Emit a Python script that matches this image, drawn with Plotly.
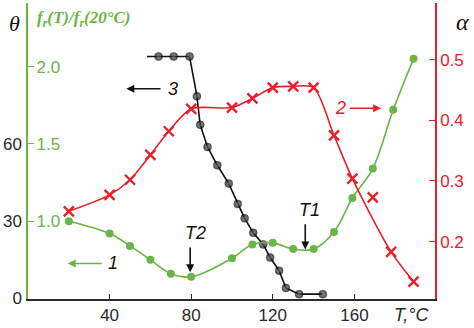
import plotly.graph_objects as go

# Curve 1: relative resonance frequency f_r(T)/f_r(20°C)
T_ratio = [20, 40, 50, 60, 70, 80, 100, 110, 120, 130, 140, 150, 159, 169, 179, 189]
ratio = [1.00, 0.92, 0.84, 0.75, 0.66, 0.64, 0.76, 0.85, 0.86, 0.82, 0.82, 0.93, 1.15, 1.34, 1.72, 2.05]

# Curve 2: loss coefficient alpha (main branch + one scattered point)
T_alpha = [20, 40, 50, 60, 69, 80, 100, 110, 120, 130, 140, 150, 159, 178, 189]
alpha = [0.250, 0.277, 0.302, 0.343, 0.382, 0.419, 0.421, 0.436, 0.454, 0.456, 0.454, 0.375, 0.304, 0.183, 0.134]
T_alpha_extra = [169]
alpha_extra = [0.273]

# Curve 3: angle theta, degrees
T_theta = [58.3, 64.0, 71.4, 79.2, 82.8, 84.4, 88.0, 92.8, 98.4, 102.8, 106.2, 110.4,
           115.3, 118.7, 123.1, 126.4, 132.9, 144.5]
theta = [93.9, 93.9, 93.9, 93.9, 78.5, 67.4, 58.8, 51.7, 44.6, 36.7, 31.1, 25.5,
         21.0, 15.9, 10.8, 4.1, 1.7, 1.7]

x_ticks = [40, 80, 120, 160]
theta_ticks = [0, 30, 60]
ratio_ticks = [1.0, 1.5, 2.0]
alpha_ticks = [0.2, 0.3, 0.4, 0.5]

GREEN = "#6ab547"
RED = "#e8202a"
DARK = "#2a2a2a"
SANS = "Liberation Sans, Arial, sans-serif"
SERIF = "Liberation Serif, Times New Roman, serif"

theta_range = [-0.19, 114.66]
ratio_range = [0.5 + theta_range[0] / 60, 0.5 + theta_range[1] / 60]
alpha_range = [0.1054, 0.5934]

fig = go.Figure()

fig.add_trace(go.Scatter(
    x=T_ratio, y=ratio, yaxis="y2", mode="lines+markers",
    line=dict(color=GREEN, width=1.6, shape="spline", smoothing=1.0),
    marker=dict(color=GREEN, size=8), cliponaxis=False))

fig.add_trace(go.Scatter(
    x=T_alpha, y=alpha, yaxis="y3", mode="lines+markers",
    line=dict(color=RED, width=1.6, shape="spline", smoothing=0.8),
    marker=dict(symbol="x-thin", size=10, line=dict(color=RED, width=2.4)),
    cliponaxis=False))
fig.add_trace(go.Scatter(
    x=T_alpha_extra, y=alpha_extra, yaxis="y3", mode="markers",
    marker=dict(symbol="x-thin", size=10, line=dict(color=RED, width=2.4))))

fig.add_trace(go.Scatter(
    x=T_theta, y=theta, yaxis="y", mode="lines+markers",
    line=dict(color="#111111", width=1.6),
    marker=dict(color="#000000", size=[0] + [8] * (len(T_theta) - 1),
                line=dict(color="#000000", width=0.5),
                gradient=dict(type="radial", color="#707070")),
    cliponaxis=False))

fig.update_layout(
    width=474, height=328,
    margin=dict(l=27.6, r=39, t=3, b=27.3),
    paper_bgcolor="white", plot_bgcolor="white",
    showlegend=False,
    xaxis=dict(range=[0, 199.5], tickvals=x_ticks, ticks="inside", ticklen=5,
               tickcolor=DARK, tickwidth=1.2, showline=True, linecolor=DARK, linewidth=2,
               showgrid=False, zeroline=False,
               tickfont=dict(family=SANS, size=17, color=DARK)),
    yaxis=dict(range=theta_range, tickvals=theta_ticks, ticks="", showline=False,
               showgrid=False, zeroline=False, ticklabelstandoff=5,
               tickfont=dict(family=SANS, size=17, color=DARK)),
    yaxis2=dict(range=ratio_range, tickvals=ratio_ticks, ticktext=["1.0", "1.5", "2.0"],
                overlaying="y", side="left", anchor="x",
                ticks="inside", ticklen=6, tickcolor=GREEN, tickwidth=1.2,
                showline=True, linecolor=GREEN, linewidth=2,
                ticklabelposition="inside", ticklabelstandoff=3,
                showgrid=False, zeroline=False,
                tickfont=dict(family=SANS, size=17, color=GREEN)),
    yaxis3=dict(range=alpha_range, tickvals=alpha_ticks, ticktext=["0.2", "0.3", "0.4", "0.5"],
                overlaying="y", side="right", anchor="x",
                ticks="inside", ticklen=6, tickcolor=RED, tickwidth=1.2,
                showline=True, linecolor=RED, linewidth=1.5,
                showgrid=False, zeroline=False,
                tickfont=dict(family=SANS, size=17, color=RED)),
)

ann = []
# axis titles
ann.append(dict(text="<i>θ</i>", xref="paper", yref="paper", x=-0.033, y=0.93,
                xanchor="center", yanchor="middle", showarrow=False,
                font=dict(family=SERIF, size=22, color="#111")))
ann.append(dict(text="<b><i>f<sub>r</sub>(T)/f<sub>r</sub>(20°C)</i></b>", xref="paper", yref="paper",
                x=0.018, y=0.945, xanchor="left", yanchor="middle", showarrow=False,
                font=dict(family=SERIF, size=17, color=GREEN)))
ann.append(dict(text="<i>α</i>", xref="paper", yref="paper", x=1.068, y=0.935,
                xanchor="center", yanchor="middle", showarrow=False,
                font=dict(family=SERIF, size=24, color="#111")))
ann.append(dict(text="<i>T,°C</i>", xref="x", yref="paper", x=188, y=-0.055,
                xanchor="center", yanchor="middle", showarrow=False,
                font=dict(family=SANS, size=18, color=DARK)))

# curve labels with pointer arrows
def arrow(x0, y0, x1, y1, color):
    return dict(x=x1, y=y1, ax=x0, ay=y0, xref="x", yref="y", axref="x", ayref="y",
                text="", showarrow=True, arrowhead=2, arrowsize=1, arrowwidth=1.6,
                arrowcolor=color)

def label(text, x, y, color, size=18):
    return dict(text=f"<i>{text}</i>", x=x, y=y, xref="x", yref="y", showarrow=False,
                xanchor="center", yanchor="middle",
                font=dict(family=SANS, size=size, color=color))

ann.append(arrow(65.7, 81.4, 48.2, 81.4, "#111"))
ann.append(label("3", 71.0, 81.4, "#111"))
ann.append(arrow(36.9, 13.6, 19.5, 13.6, GREEN))
ann.append(label("1", 41.5, 13.6, "#111"))
ann.append(arrow(157.0, 73.8, 173.1, 73.8, RED))
ann.append(label("2", 153.3, 74.0, RED))
ann.append(arrow(79.5, 20.4, 79.5, 10.2, "#111"))
ann.append(label("T2", 82.0, 25.6, "#111"))
ann.append(arrow(135.9, 29.4, 135.9, 19.0, "#111"))
ann.append(label("T1", 137.8, 34.2, "#111"))

fig.update_layout(annotations=ann)

fig.write_html("out.html")
